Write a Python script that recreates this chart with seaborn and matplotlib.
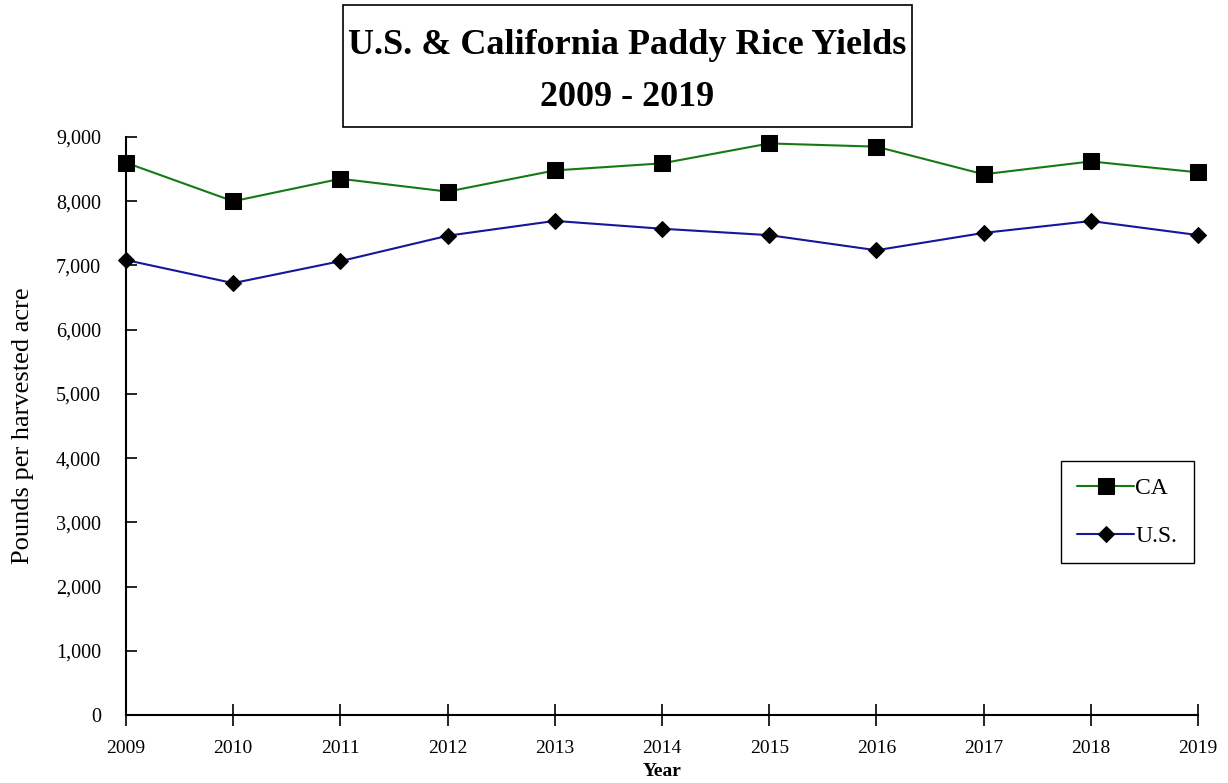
import pandas as pd
import matplotlib
matplotlib.use('Agg')
import matplotlib.pyplot as plt
import seaborn as sns

# Yield data, pounds per harvested acre
years = [2009, 2010, 2011, 2012, 2013, 2014, 2015, 2016, 2017, 2018, 2019]
ca_yield = [8600, 8000, 8350, 8150, 8480, 8590, 8900, 8850, 8420, 8620, 8450]
us_yield = [7085, 6725, 7067, 7463, 7694, 7572, 7472, 7237, 7507, 7692, 7473]

sns.set_style('ticks')
plt.rcParams['font.family'] = ['Liberation Serif', 'DejaVu Serif']
plt.rcParams['text.color'] = 'black'
plt.rcParams['axes.labelcolor'] = 'black'

fig = plt.figure(figsize=(12.28, 7.83), dpi=100)
ax = fig.add_axes([0.1026, 0.0868, 0.873, 0.7382])

df_ca = pd.DataFrame({'year': years, 'yield': ca_yield})
df_us = pd.DataFrame({'year': years, 'yield': us_yield})

sns.lineplot(data=df_ca, x='year', y='yield', ax=ax, color='#157a15', lw=1.5,
             marker='s', markersize=11, mfc='black', mec='black', label='CA', clip_on=False)
sns.lineplot(data=df_us, x='year', y='yield', ax=ax, color='#16169a', lw=1.5,
             marker='D', markersize=8, mfc='black', mec='black', label='U.S.', clip_on=False)

ax.set_xlim(2009, 2019)
ax.set_ylim(0, 9000)
ax.set_xticks(years)
ax.set_yticks(range(0, 9001, 1000))
ax.set_yticklabels([f'{v:,}' for v in range(0, 9001, 1000)])
ax.tick_params(axis='y', direction='in', length=8, width=1.2, labelsize=14.5, pad=18, colors='black')
ax.tick_params(axis='x', direction='inout', length=16, width=1.2, labelsize=14, pad=10, colors='black')
for s in ['top', 'right']:
    ax.spines[s].set_visible(False)
for s in ['left', 'bottom']:
    ax.spines[s].set_linewidth(1.5)
    ax.spines[s].set_color('black')

ax.set_xlabel('Year', fontsize=14, fontweight='bold', labelpad=4)
ax.set_ylabel('Pounds per harvested acre', fontsize=19, labelpad=16)

leg = ax.legend(loc='upper left', bbox_to_anchor=(0.872, 0.439), borderaxespad=0,
                fancybox=False, edgecolor='black', fontsize=17, labelspacing=1.1,
                handlelength=2.4, handletextpad=0.05, borderpad=0.7, framealpha=1)
leg.get_frame().set_linewidth(1.0)

fig.text(0.511, 0.942, 'U.S. & California Paddy Rice Yields', ha='center', va='center',
         fontsize=26, fontweight='bold')
fig.text(0.511, 0.875, '2009 - 2019', ha='center', va='center',
         fontsize=26, fontweight='bold')
box = plt.Rectangle((343 / 1228, 1 - 127 / 783), (912 - 343) / 1228, 122 / 783,
                    transform=fig.transFigure, fill=False, edgecolor='black', lw=1.2)
fig.add_artist(box)

fig.savefig('out.png', dpi=100)
